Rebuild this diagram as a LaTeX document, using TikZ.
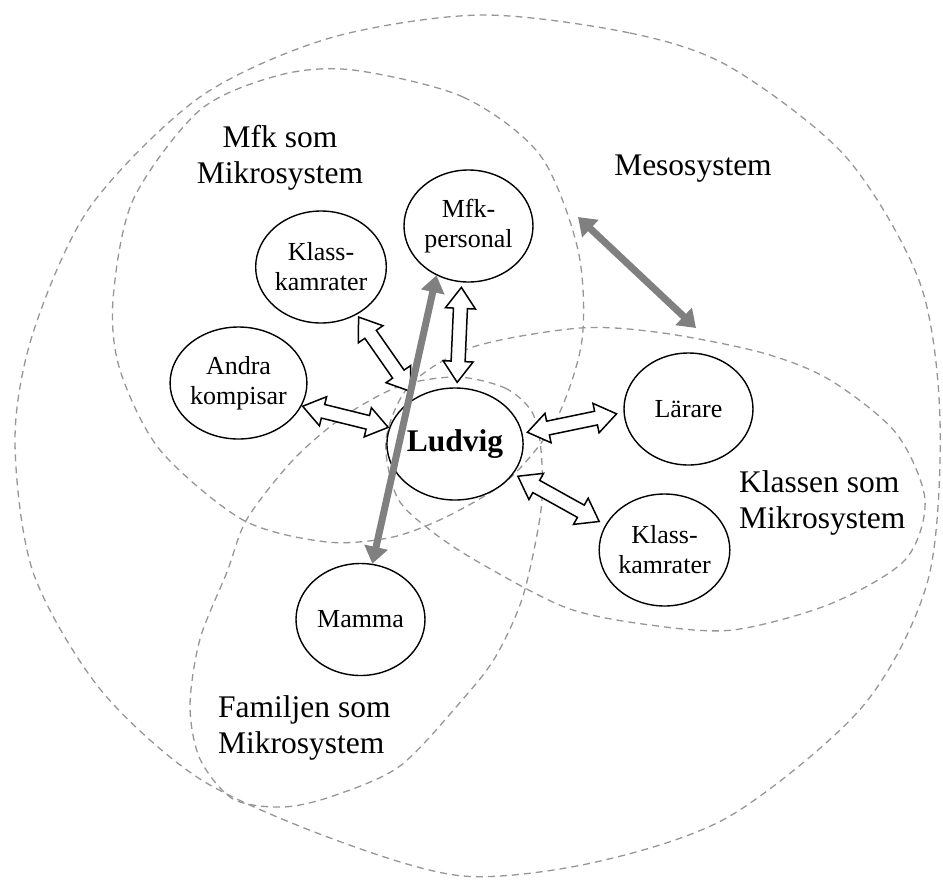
\documentclass[tikz,border=0pt]{standalone}
\usepackage{fontspec}
\setmainfont{Liberation Serif}
\usetikzlibrary{shapes.geometric,arrows.meta,calc}
\definecolor{dashgray}{RGB}{150,150,150}
\definecolor{arrgray}{RGB}{128,128,128}
\newcommand{\dblarrow}[2]{%
  \path #1 coordinate (da);
  \path #2 coordinate (db);
  \coordinate (db1) at ($(da)!21pt!(db)$);
  \coordinate (db2) at ($(db)!21pt!(da)$);
  \draw[blockarrow] (da)
    -- ($(db1)!15pt!90:(db)$) -- ($(db1)!7pt!90:(db)$)
    -- ($(db2)!7pt!-90:(da)$) -- ($(db2)!15pt!-90:(da)$)
    -- (db)
    -- ($(db2)!15pt!90:(da)$) -- ($(db2)!7pt!90:(da)$)
    -- ($(db1)!7pt!-90:(db)$) -- ($(db1)!15pt!-90:(db)$)
    -- cycle;
}
\tikzset{
  pnode/.style={ellipse, draw, line width=1.4pt, fill=white, minimum width=129pt,
    minimum height=112pt, inner sep=0pt, align=center, font=\fontsize{26}{30}\selectfont},
  syslabel/.style={font=\fontsize{31.5}{36.5}\selectfont, inner sep=0pt},
  sysline/.style={draw=dashgray, line width=1.3pt, dash pattern=on 7pt off 5pt},
  blockarrow/.style={draw=black, fill=white, line width=1.5pt, line join=miter},
  grayarrow/.style={draw=arrgray, line width=7pt,
    {Triangle[length=17pt,width=23pt]}-{Triangle[length=17pt,width=23pt]}},
}
\begin{document}
\begin{tikzpicture}[x=1pt,y=-1pt]
\useasboundingbox (0,0) rectangle (943,879);
% Mesosystem (outer)
\draw[sysline] plot[smooth cycle] coordinates {(480,15) (630,33) (730,67) (846,157) (920,283) (940,420) (928,580) (863,706) (730,816) (596,862) (463,876) (333,839) (200,779) (100,689) (33,572) (15,440) (33,333) (90,207) (200,97) (330,38)};
% Mfk
\draw[sysline] plot[smooth cycle] coordinates {(353,70) (463,97) (540,155) (578,250) (582,340) (556,420) (510,478) (450,515) (393,537) (327,542) (243,520) (160,450) (120,370) (113,300) (133,200) (200,110) (280,75)};
% Klassen
\draw[sysline] plot[smooth cycle] coordinates {(580,328) (663,333) (763,353) (830,380) (896,433) (925,500) (905,560) (830,604) (733,630) (650,625) (567,608) (480,563) (430,530) (397,497) (386,440) (410,385) (473,347)};
% Familjen
\draw[sysline] plot[smooth cycle] coordinates {(457,377) (505,388) (532,412) (541,450) (541,510) (523,596) (496,656) (463,699) (400,766) (333,796) (283,807) (233,799) (200,759) (190,706) (200,639) (227,572) (247,519) (293,460) (343,417) (400,386)};

% labels
\node[syslabel, align=center] (mfklab) at (280,158) {Mfk som\\Mikrosystem};
\node[syslabel, anchor=base] (mesolab) at (693,175) {Mesosystem};
\node[syslabel, align=left, anchor=west] (klasslab) at (739,503) {Klassen som\\Mikrosystem};
\node[syslabel, align=left, anchor=west] (famlab) at (218,728) {Familjen som\\Mikrosystem};

% nodes
\node[pnode] (mfkp) at (468.5,226) {Mfk-\\personal};
\node[pnode] (klt) at (321,267) {Klass-\\kamrater};
\node[pnode] (andra) at (238.5,383) {Andra\\kompisar};
\node[pnode, font=\fontsize{31.5}{36}\selectfont\bfseries] (lud) at (455,444) {Ludvig};
\node[pnode] (lar) at (688.5,409) {Lärare};
\node[pnode] (klr) at (664.5,550) {Klass-\\kamrater};
\node[pnode] (mamma) at (360.5,619.5) {Mamma};

% hollow double arrows
\dblarrow{($(mfkp.-97)!5pt!(lud.88)$)}{($(lud.88)!5pt!(mfkp.-97)$)}
\dblarrow{($(andra.-20)!1pt!(lud.166)$)}{($(lud.166)!1pt!(andra.-20)$)}
\dblarrow{($(klt.-53)!3pt!(lud.131)$)}{($(lud.131)!8pt!(klt.-53)$)}
\dblarrow{($(lud.9)!5pt!(lar.183)$)}{($(lar.183)!7pt!(lud.9)$)}
\dblarrow{($(lud.-27)!5pt!(klr.157)$)}{($(klr.157)!7pt!(lud.-27)$)}

% grey arrows
\coordinate (m1) at (578,217);
\coordinate (m2) at (696,328);
\draw[grayarrow] (m1) -- (m2);
\draw[grayarrow] (mfkp.237) -- (mamma.78);
\end{tikzpicture}
\end{document}
